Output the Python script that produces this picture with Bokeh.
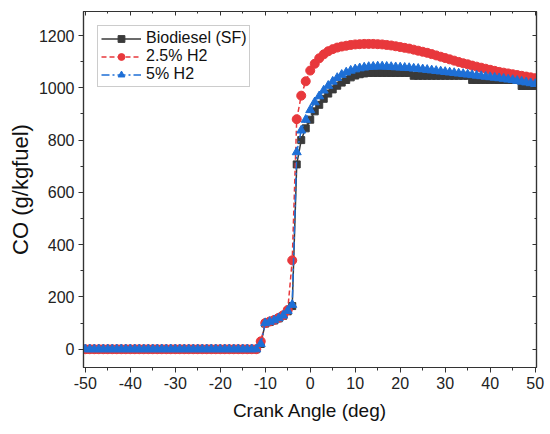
from bokeh.plotting import figure
from bokeh.models import (Range1d, SingleIntervalTicker, LinearAxis, Legend, LegendItem,
                          CustomJSTickFormatter)
from bokeh.embed import file_html
from bokeh.resources import INLINE

# ---- data ----
angle = list(range(-50, 51))

zeros_pre = [0, 0, 0, 0, 0, 0, 0, 0, 0, 0,
             0, 0, 0, 0, 0, 0, 0, 0, 0, 0,
             0, 0, 0, 0, 0, 0, 0, 0, 0, 0,
             0, 0, 0, 0, 0, 0, 0, 0, 0]  # -50 .. -12

biodiesel_sf = zeros_pre + [
    20, 98, 104, 110, 118, 128, 145, 165,          # -11 .. -4
    707, 800, 845, 878, 910, 935, 958, 978,        # -3 .. 4
    994, 1008, 1020, 1030, 1040, 1047, 1052, 1055, # 5 .. 12
    1057, 1057, 1057, 1057, 1057, 1057, 1057, 1057, 1057, 1057,  # 13 .. 22
    1046, 1046, 1046, 1046, 1046, 1046, 1046, 1046, 1046, 1046,
    1046, 1046, 1046,                              # 23 .. 35
    1030, 1030, 1030, 1030, 1030, 1030, 1030, 1030, 1030, 1030, 1030,  # 36 .. 46
    1007, 1007, 1007, 1007,                        # 47 .. 50
]

h2_2_5 = zeros_pre + [
    30, 100, 106, 112, 120, 130, 150, 340,         # -11 .. -4
    880, 970, 1025, 1066, 1092, 1113, 1128, 1140,  # -3 .. 4
    1148, 1154, 1158, 1161, 1164, 1166, 1167, 1168,  # 5 .. 12
    1168, 1168, 1167, 1166, 1164, 1162, 1159, 1156,  # 13 .. 20
    1153, 1150, 1146, 1142, 1138, 1134, 1129, 1124,  # 21 .. 28
    1119, 1114, 1109, 1104, 1099, 1094, 1090, 1085,  # 29 .. 36
    1081, 1077, 1073, 1069, 1065, 1061, 1058, 1055,  # 37 .. 44
    1052, 1049, 1046, 1043, 1040, 1037,              # 45 .. 50
]

h2_5 = zeros_pre + [
    20, 100, 105, 111, 119, 129, 147, 170,         # -11 .. -4
    754, 837, 878, 915, 945, 968, 990, 1008,       # -3 .. 4
    1024, 1038, 1050, 1059, 1066, 1071, 1075, 1078,  # 5 .. 12
    1080, 1081, 1082, 1082, 1081, 1080, 1079, 1078,  # 13 .. 20
    1077, 1076, 1074, 1073, 1071, 1069, 1067, 1065,  # 21 .. 28
    1063, 1061, 1059, 1057, 1055, 1053, 1051, 1049,  # 29 .. 36
    1047, 1045, 1043, 1041, 1039, 1037, 1035, 1032,  # 37 .. 44
    1030, 1027, 1024, 1021, 1018, 1015,              # 45 .. 50
]

series_names = ["Biodiesel (SF)", "2.5% H2", "5% H2"]

# ---- styling ----
FONT = "Liberation Sans"
C_BLACK = "#3a3a3a"
C_RED = "#e8383c"
C_BLUE = "#1e6fd6"
AX = "#333333"

p = figure(width=548, height=430, output_backend="svg", toolbar_location=None,
           x_range=Range1d(-50.4, 50.3), y_range=Range1d(-70, 1292),
           min_border_left=83, min_border_right=12, min_border_top=11,
           min_border_bottom=63, background_fill_color="white",
           border_fill_color="white")
p.xgrid.grid_line_color = None
p.ygrid.grid_line_color = None
p.outline_line_color = AX
p.outline_line_width = 1.2

xticker = SingleIntervalTicker(interval=10, num_minor_ticks=2)
yticker = SingleIntervalTicker(interval=200, num_minor_ticks=2)
plain = CustomJSTickFormatter(code="return tick.toFixed(0);")

xa = p.xaxis[0]
ya = p.yaxis[0]
xa.ticker = xticker
ya.ticker = yticker
for ax in (xa, ya):
    ax.formatter = plain
    ax.axis_line_color = AX
    ax.axis_line_width = 1.2
    ax.major_tick_line_color = AX
    ax.minor_tick_line_color = AX
    ax.major_tick_in = 0
    ax.major_tick_out = 5
    ax.minor_tick_in = 0
    ax.minor_tick_out = 3
    ax.major_label_text_font = FONT
    ax.major_label_text_font_size = "16px"
    ax.major_label_text_color = "#222222"
    ax.axis_label_text_font = FONT
    ax.axis_label_text_font_style = "normal"
    ax.axis_label_text_color = "#111111"
    ax.major_label_standoff = 4

xa.axis_label = "Crank Angle (deg)"
xa.axis_label_text_font_size = "19px"
xa.axis_label_standoff = 8
ya.axis_label = "CO (g/kgfuel)"
ya.axis_label_text_font_size = "22px"
ya.axis_label_standoff = 3

# mirrored axes with inward ticks and no labels
blank = CustomJSTickFormatter(code="return '';")
for loc, tk in (("above", xticker), ("right", yticker)):
    m = LinearAxis(ticker=tk, formatter=blank, major_label_standoff=0,
                   major_tick_in=4, major_tick_out=0,
                   minor_tick_in=2, minor_tick_out=0,
                   axis_line_color=AX, axis_line_width=1.2,
                   major_tick_line_color=AX, minor_tick_line_color=AX)
    p.add_layout(m, loc)

# ---- series ----
l1 = p.line(angle, biodiesel_sf, line_color=C_BLACK, line_width=1.5)
s1 = p.scatter(angle, biodiesel_sf, marker="square", size=7,
               fill_color=C_BLACK, line_color=C_BLACK)
l2 = p.line(angle, h2_2_5, line_color=C_RED, line_width=1.5, line_dash="5 3")
s2 = p.scatter(angle, h2_2_5, marker="circle", size=9,
               fill_color=C_RED, line_color=C_RED)
l3 = p.line(angle, h2_5, line_color=C_BLUE, line_width=1.5, line_dash="8 3 2 3")
s3 = p.scatter(angle, h2_5, marker="triangle", size=9,
               fill_color=C_BLUE, line_color=C_BLUE)

legend = Legend(items=[
    LegendItem(label=series_names[0], renderers=[l1, s1]),
    LegendItem(label=series_names[1], renderers=[l2, s2]),
    LegendItem(label=series_names[2], renderers=[l3, s3]),
], location=(14, 280))
legend.label_text_font = FONT
legend.label_text_font_size = "16px"
legend.label_text_color = "#111111"
legend.glyph_width = 40
legend.glyph_height = 17
legend.label_height = 17
legend.label_standoff = 5
legend.spacing = 0
legend.padding = 3
legend.margin = 0
legend.border_line_color = "#999999"
legend.border_line_width = 1
legend.background_fill_color = "white"
legend.background_fill_alpha = 1
p.add_layout(legend)

open("out.html", "w").write(file_html(p, INLINE))
